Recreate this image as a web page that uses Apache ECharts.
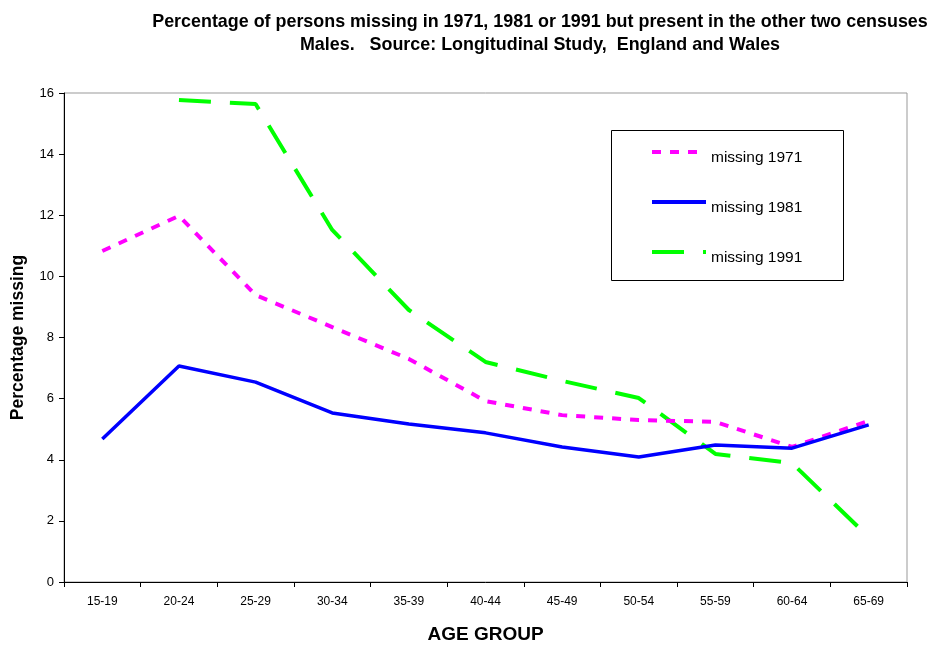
<!DOCTYPE html>
<html><head><meta charset="utf-8">
<script src="https://cdn.jsdelivr.net/npm/echarts@6/dist/echarts.min.js"></script>
<style>html,body{margin:0;padding:0;background:#fff}#c{width:938px;height:646px}</style>
</head><body><div id="c"></div>
<script>
const categories = ['15-19','20-24','25-29','30-34','35-39','40-44','45-49','50-54','55-59','60-64','65-69'];
const missing1971 = [10.83, 11.98, 9.39, 8.34, 7.3, 5.92, 5.46, 5.30, 5.24, 4.42, 5.27];
const missing1981 = [4.68, 7.07, 6.54, 5.53, 5.17, 4.88, 4.42, 4.09, 4.48, 4.38, 5.14];
const missing1991 = [null, 15.77, 15.64, 11.52, 8.9, 7.2, 6.58, 6.02, 4.19, 3.89, 1.47];
const seriesNames = ['missing 1971', 'missing 1981', 'missing 1991'];
const titleText = 'Percentage of persons missing in 1971, 1981 or 1991 but present in the other two censuses\nMales.   Source: Longitudinal Study,  England and Wales';

const FONT = '"Liberation Sans", Arial, sans-serif';
const chart = echarts.init(document.getElementById('c'), null, {renderer: 'canvas'});
chart.setOption({
  animation: false,
  backgroundColor: '#fff',
  textStyle: {fontFamily: FONT},
  title: {
    text: titleText,
    left: 535, textAlign: 'center', top: 6,
    textStyle: {fontFamily: FONT, fontSize: 17.9, fontWeight: 'bold', color: '#000', lineHeight: 23}
  },
  grid: {left: 64, right: 31, top: 93, bottom: 64, show: true, borderColor: '#999', borderWidth: 1,
         containLabel: false, outerBoundsMode: 'none'},
  graphic: [{
    type: 'rect', left: 611, top: 130, shape: {width: 232, height: 150},
    style: {fill: '#fff', stroke: '#000', lineWidth: 1}, z: 1
  }],
  legend: {
    orient: 'vertical', left: 645, top: 133, itemWidth: 54, itemHeight: 14, itemGap: 22,
    formatter: '{a|{name}}',
    textStyle: {fontFamily: FONT, fontSize: 15.5, color: '#000',
      rich: {a: {fontFamily: FONT, fontSize: 15.5, color: '#000', padding: [12, 0, 0, 0], lineHeight: 18}}},
    itemStyle: {opacity: 0},
    lineStyle: {width: 4},
    z: 5,
    data: seriesNames
  },
  xAxis: {
    type: 'category', data: categories, boundaryGap: true,
    name: 'AGE GROUP', nameLocation: 'middle', nameGap: 43,
    nameTextStyle: {fontFamily: FONT, fontSize: 19, fontWeight: 'bold', color: '#000'},
    axisLine: {lineStyle: {color: '#000', width: 1}},
    axisTick: {show: true, alignWithLabel: false, length: 5, lineStyle: {color: '#000'}},
    axisLabel: {fontFamily: FONT, fontSize: 12, color: '#000', margin: 14}
  },
  yAxis: {
    type: 'value', min: 0, max: 16, interval: 2,
    name: 'Percentage missing', nameLocation: 'middle', nameGap: 37, nameRotate: 90,
    nameTextStyle: {fontFamily: FONT, fontSize: 17.5, fontWeight: 'bold', color: '#000'},
    axisLine: {show: true, lineStyle: {color: '#000', width: 1}},
    axisTick: {show: true, length: 5, lineStyle: {color: '#000'}},
    axisLabel: {fontFamily: FONT, fontSize: 13, color: '#000', margin: 10},
    splitLine: {show: false}
  },
  series: [
    {name: seriesNames[0], type: 'line', data: missing1971, symbol: 'none', connectNulls: false,
     lineStyle: {color: '#FF00FF', width: 4, type: [9, 9]}, itemStyle: {color: '#FF00FF'}, z: 3},
    {name: seriesNames[1], type: 'line', data: missing1981, symbol: 'none',
     lineStyle: {color: '#0000FF', width: 3.5, type: 'solid'}, itemStyle: {color: '#0000FF'}, z: 4},
    {name: seriesNames[2], type: 'line', data: missing1991, symbol: 'none',
     lineStyle: {color: '#00FF00', width: 4, type: [32, 19]}, itemStyle: {color: '#00FF00'}, z: 2}
  ]
});
</script></body></html>
